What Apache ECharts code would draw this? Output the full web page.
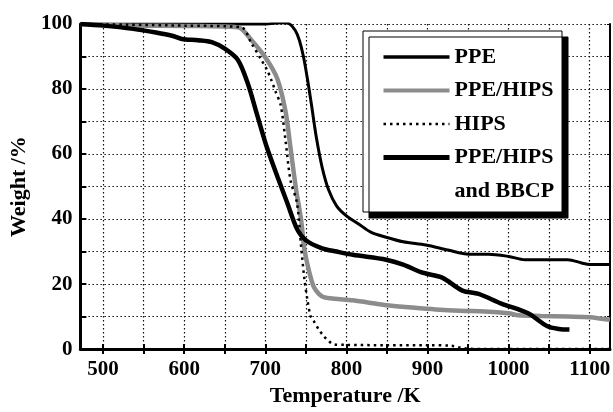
<!DOCTYPE html>
<html>
<head>
<meta charset="utf-8">
<script src="https://cdn.jsdelivr.net/npm/echarts@6/dist/echarts.min.js"></script>
<style>
  html, body { margin: 0; padding: 0; background: #fff; }
  #chart { width: 613px; height: 412px; }
</style>
</head>
<body>
<div id="chart"></div>
<script>
// tick positions
const xTicks = [500, 550, 600, 650, 700, 750, 800, 850, 900, 950, 1000, 1050, 1100]
const xLabels = [500, 600, 700, 800, 900, 1000, 1100]
const yLabels = [0, 20, 40, 60, 80, 100]

// PPE
const ppeT = [472, 600, 700, 720, 730, 737, 742, 747, 752, 757, 763, 770, 778, 788, 800, 815, 830, 849, 870, 898, 925, 951, 975, 1000, 1020, 1050, 1073, 1090, 1100, 1125]
const ppeW = [100, 100, 100, 100.4, 100, 98, 95, 90, 83, 75, 65, 56, 49, 44, 41, 38.5, 36, 34.4, 33, 32, 30.5, 29.2, 29.2, 28.5, 27.5, 27.5, 27.5, 26.5, 26, 26]

// PPE/HIPS
const blendT = [472, 537, 600, 666, 683, 702, 715, 725, 731, 738, 744, 748, 752, 756, 760, 766, 772, 785, 808, 849, 880, 910, 940, 971, 1000, 1012, 1040, 1073, 1100, 1125]
const blendW = [100, 99.5, 99.4, 99, 95, 89, 83, 73, 62, 49, 40, 31, 26, 22, 19, 17, 16, 15.5, 15, 13.5, 12.8, 12.2, 11.8, 11.6, 11, 10.4, 10.2, 10, 9.8, 9]

// HIPS
const hipsT = [472, 600, 670, 683, 695, 702, 707, 713, 719, 725, 731, 739, 744, 748, 752, 756, 760, 766, 772, 778, 784, 800, 850, 900, 930, 940, 951, 1000, 1125]
const hipsW = [100, 99.5, 99, 94, 89, 86, 83, 79, 75, 64, 52, 45, 32, 22, 15, 10, 8.5, 6, 4, 2.5, 1.5, 1.3, 1.2, 1.2, 1.0, 0.5, 0.1, 0, 0]

// PPE/HIPS and BBCP
const bbcpT = [472, 500, 537, 565, 585, 597, 617, 634, 650, 666, 678, 690, 702, 715, 727, 739, 750, 770, 788, 808, 849, 870, 894, 918, 943, 963, 991, 1024, 1048, 1062, 1075]
const bbcpW = [100, 99.5, 98.5, 97.4, 96.4, 95.4, 95, 94.4, 92.4, 89, 82, 72, 62, 53, 45, 37, 33.5, 31, 30, 29, 27.5, 26, 23.5, 22, 18, 17, 14, 11, 7, 6.2, 6]

const zip = (a, b) => a.map((v, i) => [v, b[i]])

const font = 'Liberation Serif'
const chart = echarts.init(document.getElementById('chart'))

chart.setOption({
  backgroundColor: '#fff',
  animation: false,
  grid: { left: 74, right: 3, top: 24, bottom: 55 },
  legend: {
    orient: 'vertical',
    left: 363,
    top: 31,
    padding: [15, 3, 10, 18],
    itemWidth: 66,
    itemHeight: 22,
    itemGap: 11.5,
    backgroundColor: '#fff',
    borderColor: '#000',
    borderWidth: 1,
    shadowColor: '#000',
    shadowBlur: 0,
    shadowOffsetX: 6,
    shadowOffsetY: 6,
    selectedMode: false,
    itemStyle: { opacity: 0 },
    textStyle: { fontFamily: font, fontWeight: 'bold', fontSize: 22, color: '#000', lineHeight: 22 },
    data: [
      { name: 'PPE', lineStyle: { width: 3.5 } },
      { name: 'PPE/HIPS', lineStyle: { width: 4 } },
      { name: 'HIPS', lineStyle: { width: 2.5 } },
      { name: 'PPE/HIPS ', lineStyle: { width: 5 } },
      { name: 'and BBCP', lineStyle: { width: 0 } }
    ]
  },
  xAxis: [{
    type: 'value',
    min: 472,
    max: 1125,
    name: 'Temperature /K',
    nameLocation: 'middle',
    nameGap: 32,
    nameTextStyle: { fontFamily: font, fontWeight: 'bold', fontSize: 22, color: '#000' },
    axisLine: { lineStyle: { color: '#000', width: 3 } },
    axisTick: { inside: true, length: 5, customValues: xTicks, lineStyle: { color: '#000', width: 2 } },
    axisLabel: { customValues: xLabels, margin: 10, formatter: v => String(v), fontFamily: font, fontWeight: 'bold', fontSize: 21, color: '#000' },
    splitLine: { show: true, lineStyle: { color: '#111', width: 1.2, type: [1.5, 2.5] } }
  }, {
    type: 'value',
    position: 'top',
    min: 472,
    max: 1125,
    axisLine: { show: true, lineStyle: { color: '#000', width: 2 } },
    axisTick: { inside: true, length: 5, customValues: xTicks, lineStyle: { color: '#000', width: 2 } },
    axisLabel: { show: false },
    splitLine: { show: false }
  }],
  yAxis: [{
    type: 'value',
    min: 0,
    max: 100,
    interval: 10,
    name: 'Weight /%',
    nameLocation: 'middle',
    nameGap: 44,
    nameTextStyle: { fontFamily: font, fontWeight: 'bold', fontSize: 22, color: '#000' },
    axisLine: { show: true, lineStyle: { color: '#000', width: 3 } },
    axisTick: { inside: true, length: 6, lineStyle: { color: '#000', width: 2 } },
    axisLabel: { customValues: yLabels, margin: 8, fontFamily: font, fontWeight: 'bold', fontSize: 21, color: '#000' },
    splitLine: { show: true, lineStyle: { color: '#111', width: 1.2, type: [1.5, 2.5] } }
  }, {
    type: 'value',
    position: 'right',
    min: 0,
    max: 100,
    interval: 10,
    axisLine: { show: true, lineStyle: { color: '#000', width: 2 } },
    axisTick: { inside: true, length: 3, lineStyle: { color: '#000', width: 1 } },
    axisLabel: { show: false },
    splitLine: { show: false }
  }],
  series: [{
    name: 'PPE',
    type: 'line',
    symbol: 'none',
    smooth: 0.3,
    data: zip(ppeT, ppeW),
    lineStyle: { color: '#000', width: 3 },
    itemStyle: { color: '#000' }
  }, {
    name: 'PPE/HIPS',
    type: 'line',
    symbol: 'none',
    smooth: 0.3,
    data: zip(blendT, blendW),
    lineStyle: { color: '#8c8c8c', width: 4.5 },
    itemStyle: { color: '#8c8c8c' }
  }, {
    name: 'HIPS',
    type: 'line',
    symbol: 'none',
    smooth: 0.3,
    data: zip(hipsT, hipsW),
    lineStyle: { color: '#000', width: 2.5, type: [2.5, 4] },
    itemStyle: { color: '#000' }
  }, {
    name: 'PPE/HIPS ',
    type: 'line',
    symbol: 'none',
    smooth: 0.3,
    data: zip(bbcpT, bbcpW),
    lineStyle: { color: '#000', width: 4.5 },
    itemStyle: { color: '#000' }
  }, {
    name: 'and BBCP',
    type: 'line',
    symbol: 'none',
    data: [],
    lineStyle: { opacity: 0 },
    itemStyle: { opacity: 0 }
  }]
})
</script>
</body>
</html>
